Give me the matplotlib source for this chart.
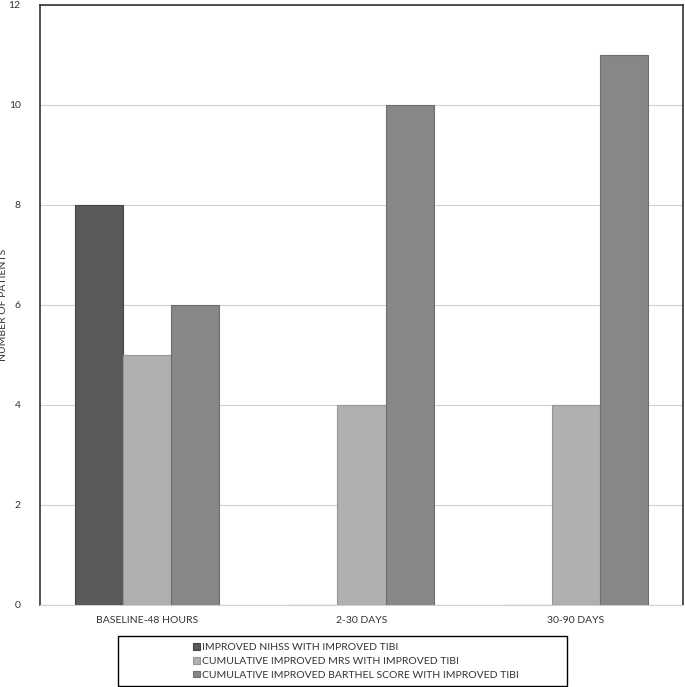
import matplotlib.pyplot as plt
from matplotlib.patches import Rectangle
import numpy as np

plt.rcParams['font.family'] = ['Lato', 'DejaVu Sans']

categories = ["BASELINE-48 HOURS", "2-30 DAYS", "30-90 DAYS"]
series_names = [
    "IMPROVED NIHSS WITH IMPROVED TIBI",
    "CUMULATIVE IMPROVED MRS WITH IMPROVED TIBI",
    "CUMULATIVE IMPROVED BARTHEL SCORE WITH IMPROVED TIBI",
]
nihss = [8, 0, 0]
mrs = [5, 4, 4]
barthel = [6, 10, 11]
colors = ["#5a5a5a", "#b0b0b0", "#878787"]
edges = ["#454545", "#969696", "#6e6e6e"]

fig = plt.figure(figsize=(6.85, 6.87), dpi=100)
ax = fig.add_axes([40 / 685, 1 - 605 / 687, 643 / 685, 600 / 687])

x = np.arange(len(categories))
w = 0.224
for i, (vals, c, ec, name) in enumerate(zip([nihss, mrs, barthel], colors, edges, series_names)):
    ax.bar(x + (i - 1) * w, vals, w, color=c, edgecolor=ec, linewidth=0.8, label=name, zorder=3)

ax.set_xlim(-0.5, 2.5)
ax.set_ylim(0, 12)
ax.set_yticks(range(0, 13, 2))
ax.set_xticks(x)
ax.set_xticklabels(categories)
ax.tick_params(length=0, labelsize=7.5, colors="#333333")
ax.tick_params(axis="y", pad=14)
ax.tick_params(axis="x", pad=8)
ax.grid(axis="y", color="#d0d0d0", linewidth=0.8, zorder=0)
for s in ["left", "top", "right"]:
    ax.spines[s].set_color("#333333")
    ax.spines[s].set_linewidth(1.2)
ax.spines["bottom"].set_color("#d0d0d0")
ax.spines["bottom"].set_linewidth(0.8)
ax.set_ylabel("NUMBER OF PATIENTS", fontsize=7.5, color="#333333")
ax.yaxis.set_label_coords(-0.049, 0.5)

# legend box
fig.patches.append(Rectangle((118 / 685, 1 - 686 / 687), 449 / 685, 50 / 687,
                             transform=fig.transFigure, fill=False,
                             edgecolor="black", linewidth=1.0))
handles, labels = ax.get_legend_handles_labels()
fig.legend(handles, labels, loc="upper left", bbox_to_anchor=(184 / 685, 1 - 634 / 687),
           frameon=False, fontsize=7.5, handlelength=0.6, handleheight=0.6,
           handletextpad=0.25, labelspacing=0.45, labelcolor="#333333")

plt.savefig("out.png", dpi=100)
